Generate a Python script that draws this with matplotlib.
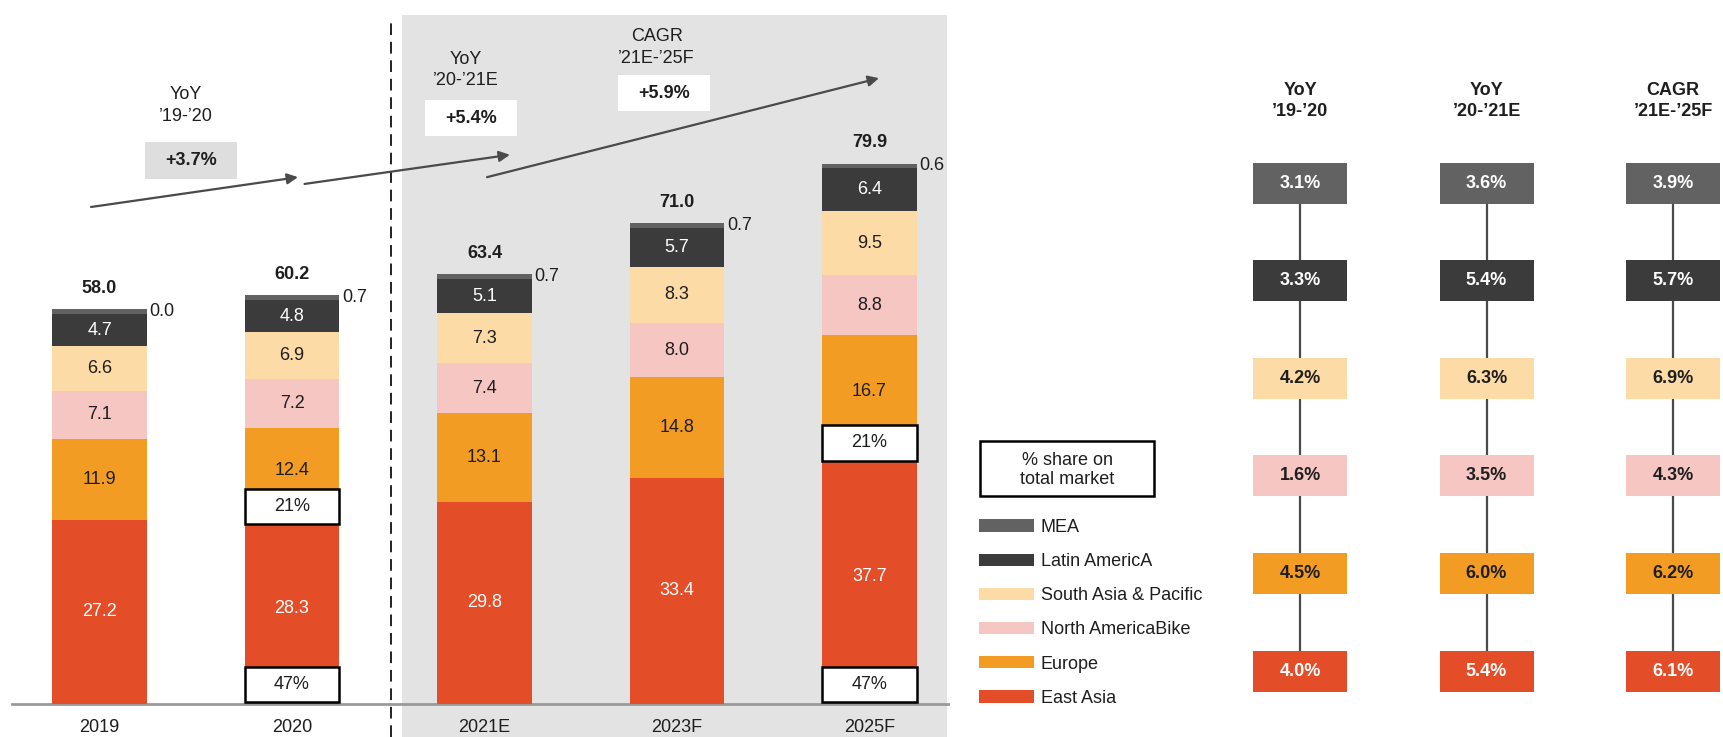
import numpy as np
import matplotlib
matplotlib.use("Agg")
import matplotlib.pyplot as plt
from matplotlib.patches import Rectangle, Patch

plt.rcParams['font.family'] = ['Liberation Sans', 'DejaVu Sans']

# --- data -------------------------------------------------------------
years = ["2019", "2020", "2021E", "2023F", "2025F"]
east_asia = [27.2, 28.3, 29.8, 33.4, 37.7]
europe = [11.9, 12.4, 13.1, 14.8, 16.7]
north_america = [7.1, 7.2, 7.4, 8.0, 8.8]
south_asia = [6.6, 6.9, 7.3, 8.3, 9.5]
latin_america = [4.7, 4.8, 5.1, 5.7, 6.4]
mea = [0.7, 0.7, 0.7, 0.7, 0.6]          # strip height as drawn
mea_labels = ["0.0", "0.7", "0.7", "0.7", "0.6"]
totals = ["58.0", "60.2", "63.4", "71.0", "79.9"]

share_bars = [1, 4]
share_east_asia = "47%"
share_europe = "21%"

period_titles = ["YoY\n’19-’20", "YoY\n’20-’21E", "CAGR\n’21E-’25F"]
market_growth = ["+3.7%", "+5.4%", "+5.9%"]

growth_mea = [3.1, 3.6, 3.9]
growth_latin = [3.3, 5.4, 5.7]
growth_south = [4.2, 6.3, 6.9]
growth_north = [1.6, 3.5, 4.3]
growth_europe = [4.5, 6.0, 6.2]
growth_east = [4.0, 5.4, 6.1]

C_EA, C_EU, C_NA = "#e34e29", "#f39c24", "#f6c6c3"
C_SA, C_LA, C_MEA = "#fddba6", "#3b3b3b", "#626262"
DARK = "#1e1e1e"
FS = 13

fig = plt.figure(figsize=(17.23, 7.37), dpi=100)

# --- stacked bars -----------------------------------------------------
ax = fig.add_axes([0, 0, 950 / 1723, 1])
ax.set_xlim(-0.517, 4.418)
ax.set_ylim(-4.87, 103.83)
ax.axis("off")

ax.add_patch(Rectangle((1.571, -4.87), 4.403 - 1.571, 101.6 + 4.87,
                       color="#e3e3e3", lw=0, zorder=0))
ax.plot([1.514, 1.514], [-4.87, 100.6], color="#222222", lw=1.4,
        ls=(0, (6, 3.5)), zorder=1)
ax.plot([-0.455, 4.418], [0, 0], color="#9a9a9a", lw=2, zorder=1)

x = np.arange(len(years))
series = [
    ("East Asia", east_asia, C_EA, "white"),
    ("Europe", europe, C_EU, DARK),
    ("North AmericaBike", north_america, C_NA, DARK),
    ("South Asia & Pacific", south_asia, C_SA, DARK),
    ("Latin AmericA", latin_america, C_LA, "white"),
    ("MEA", mea, C_MEA, None),
]
width = 0.49
bottom = np.zeros(len(years))
handles = []
for name, vals, col, tc in series:
    vals = np.array(vals)
    ax.bar(x, vals, width=width, bottom=bottom, color=col, lw=0, zorder=2)
    handles.append(Patch(facecolor=col, label=name))
    if tc is not None:
        for xi, b, v in zip(x, bottom, vals):
            ax.text(xi, b + v / 2, f"{v:.1f}", ha="center", va="center",
                    color=tc, fontsize=FS, zorder=3)
    bottom = bottom + vals

for xi, top, lab in zip(x, bottom, mea_labels):
    ax.text(xi + width / 2 + 0.015, top - 0.3, lab, ha="left", va="center",
            color=DARK, fontsize=FS, zorder=3)
for xi, top, lab in zip(x, bottom, totals):
    ax.text(xi, top + 3.1, lab, ha="center", va="center", color=DARK,
            fontsize=FS, fontweight="bold", zorder=3)
for xi, lab in zip(x, years):
    ax.text(xi, -3.5, lab, ha="center", va="center", color=DARK, fontsize=FS)

# share boxes
for i in share_bars:
    for yc, lab in [(2.85, share_east_asia), (east_asia[i] + 0.8, share_europe)]:
        ax.add_patch(Rectangle((i - width / 2, yc - 2.6), width, 5.2,
                               facecolor="white", edgecolor="black", lw=1.8,
                               zorder=4))
        ax.text(i, yc, lab, ha="center", va="center", color=DARK,
                fontsize=FS, zorder=5)

# growth arrows and labels
arrows = [((-0.044, 73.3), (1.031, 77.7)),
          ((1.065, 76.7), (2.132, 81.0)),
          ((2.013, 77.7), (4.049, 92.3))]
for start, end in arrows:
    ax.annotate("", xy=end, xytext=start, zorder=3,
                arrowprops=dict(arrowstyle="-|>", color="#4a4a4a", lw=1.6,
                                mutation_scale=16, shrinkA=0, shrinkB=0))

title_pos = [(0.449, 88.3), (1.904, 93.5), (2.894, 96.8)]
box_pos = [(0.475, 80.2), (1.930, 86.4), (2.932, 90.1)]
box_fill = ["#dedede", "white", "white"]
for (tx, ty), (bx, by), t, g, fc in zip(title_pos, box_pos, period_titles,
                                        market_growth, box_fill):
    ax.text(tx, ty, t, ha="center", va="center", color=DARK, fontsize=FS,
            linespacing=1.35)
    ax.add_patch(Rectangle((bx - 0.24, by - 2.7), 0.48, 5.4, facecolor=fc,
                           lw=0, zorder=3))
    ax.text(bx, by, g, ha="center", va="center", color=DARK, fontsize=FS,
            fontweight="bold", zorder=4)

# --- legend -----------------------------------------------------------
fig.add_artist(Rectangle((980 / 1723, (737 - 496) / 737), 174 / 1723,
                         55 / 737, facecolor="white", edgecolor="black",
                         lw=1.8, transform=fig.transFigure))
fig.text(1067 / 1723, (737 - 470) / 737, "% share on\ntotal market",
         ha="center", va="center", color=DARK, fontsize=FS)
fig.legend(handles=handles[::-1], loc="upper left",
           bbox_to_anchor=(979 / 1723, (737 - 519) / 737), frameon=False,
           fontsize=FS, handlelength=3.05, handleheight=0.68,
           handletextpad=0.37, labelspacing=0.95, borderpad=0,
           borderaxespad=0, labelcolor=DARK)

# --- growth table -----------------------------------------------------
ax2 = fig.add_axes([1207 / 1723, 0, 516 / 1723, 1])
ax2.set_xlim(-0.4987, 2.268)
ax2.set_ylim(5.676, -1.875)
ax2.axis("off")

rows = [
    (growth_mea, C_MEA, "white"),
    (growth_latin, C_LA, "white"),
    (growth_south, C_SA, DARK),
    (growth_north, C_NA, DARK),
    (growth_europe, C_EU, DARK),
    (growth_east, C_EA, "white"),
]
bw, bh = 0.504, 0.42
for c, title in enumerate(period_titles):
    ax2.text(c, -0.84, title, ha="center", va="center", color=DARK,
             fontsize=FS, fontweight="bold", linespacing=1.25)
    ax2.plot([c, c], [0, len(rows) - 1], color="#4a4a4a", lw=1.6, zorder=1)
    for r, (vals, col, tc) in enumerate(rows):
        ax2.add_patch(Rectangle((c - bw / 2, r - bh / 2), bw, bh,
                                facecolor=col, lw=0, zorder=2))
        ax2.text(c, r, f"{vals[c]:.1f}%", ha="center", va="center",
                 color=tc, fontsize=FS, fontweight="bold", zorder=3)

fig.savefig("out.png", dpi=100)
